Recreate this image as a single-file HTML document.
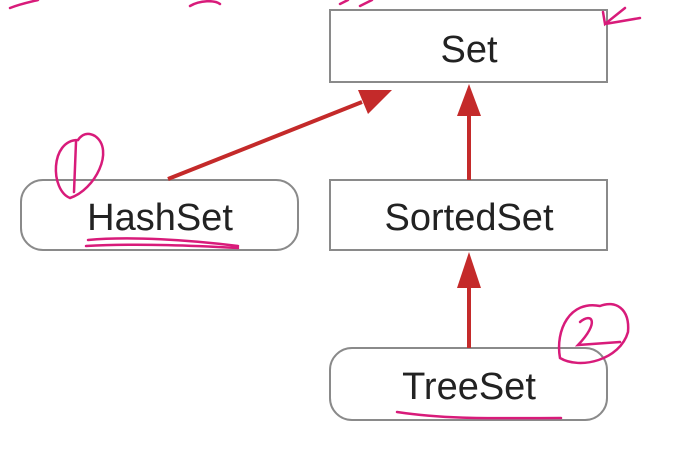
<!DOCTYPE html>
<html><head><style>
html,body{margin:0;padding:0;background:#fff;width:695px;height:476px;overflow:hidden}
</style></head><body>
<svg width="695" height="476" xmlns="http://www.w3.org/2000/svg" font-family="Liberation Sans, sans-serif">
<rect x="330" y="10" width="277" height="72" fill="#fff" stroke="#8a8a8a" stroke-width="2"/>
<text x="469" y="62" font-size="38" text-anchor="middle" fill="#222">Set</text>
<rect x="330" y="180" width="277" height="70" fill="#fff" stroke="#8a8a8a" stroke-width="2"/>
<text x="469" y="230" font-size="38" text-anchor="middle" fill="#222">SortedSet</text>
<rect x="21" y="180" width="277" height="70" rx="22" fill="#fff" stroke="#8a8a8a" stroke-width="2"/>
<text x="160" y="230" font-size="38" text-anchor="middle" fill="#222">HashSet</text>
<rect x="330" y="348" width="277" height="72" rx="22" fill="#fff" stroke="#8a8a8a" stroke-width="2"/>
<text x="469" y="399" font-size="38" text-anchor="middle" fill="#222">TreeSet</text>
<g stroke="#c42a2a" stroke-width="4" fill="#c42a2a">
<line x1="469" y1="180" x2="469" y2="112"/>
<polygon points="469,84 457,116 481,116" stroke="none"/>
<line x1="469" y1="348" x2="469" y2="280"/>
<polygon points="469,252 457,288 481,288" stroke="none"/>
<line x1="168" y1="179" x2="362" y2="102"/>
<polygon points="392,90 358,90 368,114" stroke="none"/>
</g>
<g stroke="#d81b7a" stroke-width="2.5" fill="none" stroke-linecap="round">
<path d="M78,140 C50,140 50,190 70,198 C95,190 115,150 95,136 C88,132 82,134 78,140"/>
<path d="M76,142 L74,192"/>
<path d="M88,240 C130,236 190,240 238,246"/>
<path d="M86,246 C140,243 200,246 238,248"/>
<path d="M397,412 C450,420 500,418 561,418"/>
<path d="M600,306 C570,300 555,330 560,358 C580,370 620,360 628,332 C630,308 615,300 600,306"/>
<path d="M580,322 C592,312 600,322 578,345 L620,342"/>
<path d="M603,12 L605,24 L625,8 M605,24 L640,18"/>
<path d="M10,8 C20,4 30,2 38,0"/>
<path d="M190,6 C200,0 215,0 220,4"/>
<path d="M340,4 L348,0 M360,6 L372,0"/>
</g>
</svg>
</body></html>
